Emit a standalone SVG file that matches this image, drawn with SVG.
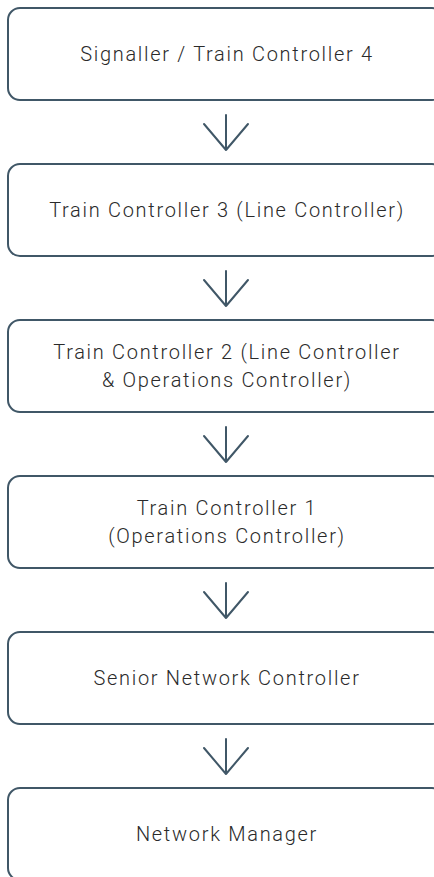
<svg xmlns="http://www.w3.org/2000/svg" width="434" height="877" viewBox="0 0 434 877">
<style>
.box{fill:#ffffff;stroke:#405767;stroke-width:2}
.lbl{font-family:Roboto,"Liberation Sans",sans-serif;font-weight:300;font-size:20px;letter-spacing:1.7px;fill:#2a2a2a;text-anchor:middle}
.arr{fill:none;stroke:#405767;stroke-width:2;stroke-linecap:round;stroke-linejoin:round}
</style>
<rect width="434" height="877" fill="#ffffff"/>
<g id="node1"><rect class="box" x="8" y="8" width="436" height="92" rx="12"/><text class="lbl" x="227" y="61">Signaller / Train Controller 4</text></g>
<g id="node2"><rect class="box" x="8" y="164" width="436" height="92" rx="12"/><text class="lbl" x="227" y="217">Train Controller 3 (Line Controller)</text></g>
<g id="node3"><rect class="box" x="8" y="320" width="436" height="92" rx="12"/><text class="lbl" x="227" y="359">Train Controller 2 (Line Controller</text><text class="lbl" x="227" y="387">&amp; Operations Controller)</text></g>
<g id="node4"><rect class="box" x="8" y="476" width="436" height="92" rx="12"/><text class="lbl" x="227" y="515">Train Controller 1</text><text class="lbl" x="227" y="543">(Operations Controller)</text></g>
<g id="node5"><rect class="box" x="8" y="632" width="436" height="92" rx="12"/><text class="lbl" x="227" y="685">Senior Network Controller</text></g>
<g id="node6"><rect class="box" x="8" y="788" width="436" height="92" rx="12"/><text class="lbl" x="227" y="841">Network Manager</text></g>
<g id="connectors">
<path class="arr" d="M226 115V150M204 124L226 150L248 124"/>
<path class="arr" d="M226 271V306M204 280L226 306L248 280"/>
<path class="arr" d="M226 427V462M204 436L226 462L248 436"/>
<path class="arr" d="M226 583V618M204 592L226 618L248 592"/>
<path class="arr" d="M226 739V774M204 748L226 774L248 748"/>
</g>
</svg>
